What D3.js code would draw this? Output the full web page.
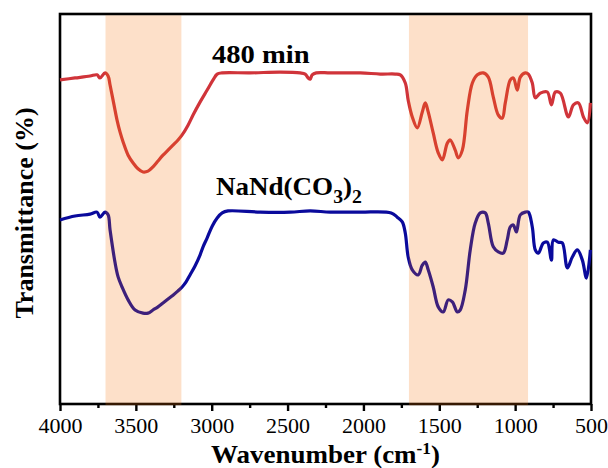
<!DOCTYPE html>
<html>
<head>
<meta charset="utf-8">
<script src="https://cdn.jsdelivr.net/npm/d3@7"></script>
<style>
  html, body { margin: 0; padding: 0; background: #fff; }
  svg { display: block; }
  text { font-family: "Liberation Serif", "Times New Roman", serif; fill: #000; }
</style>
</head>
<body>
<svg id="chart" width="608" height="468"></svg>
<script>
// ---- data (wavenumber in cm^-1, transmittance in arbitrary % units, offset) ----
const wavenumberTicks = [4000, 3500, 3000, 2500, 2000, 1500, 1000, 500];
const minorTicks = [3750, 3250, 2750, 2250, 1750, 1250, 750];
const bands = [[3700, 3200], [1700, 915]];
const seriesNames = ["480 min", "NaNd(CO3)2"];

const wn480 = [4000,3901,3802,3756,3736,3703,3683,3670,3644,3624,3604,3584,3551,3518,3486,3453,3420,3387,3354,3321,3288,3255,3222,3195,3156,3123,3077,3030,2991,2964,2931,2747,2549,2417,2384,2364,2351,2338,2311,2219,2021,1889,1790,1757,1724,1705,1678,1645,1612,1592,1573,1540,1507,1480,1447,1428,1395,1375,1348,1315,1282,1249,1210,1177,1144,1111,1085,1065,1032,1012,986,966,933,913,887,867,834,788,761,735,702,649,616,583,550,524,504];
const t480 = [83.1,83.6,84.1,84.4,83.6,84.9,84.1,81.8,76.7,72.8,69.7,67.2,63.8,61.8,60.3,59.5,59.7,60.8,62.3,63.8,65.1,66.4,67.7,69.0,71.5,74.1,77.4,80.5,83.1,84.6,84.9,84.9,85.1,84.9,84.6,83.6,83.3,84.4,84.9,84.9,84.9,84.6,84.6,84.4,82.3,77.9,73.6,70.8,74.9,77.2,74.9,69.5,64.4,62.6,66.9,67.7,65.1,63.1,65.1,75.4,82.3,84.4,84.9,83.8,78.7,74.1,73.3,77.2,83.1,83.6,80.5,83.8,84.9,84.6,82.3,78.5,79.7,80.0,76.7,80.0,79.7,73.6,76.7,77.2,73.6,72.1,77.2];

const wnNaNd = [4000,3901,3802,3756,3736,3703,3683,3670,3637,3617,3591,3551,3505,3453,3420,3387,3354,3321,3288,3255,3222,3195,3169,3143,3110,3077,3057,3030,2997,2964,2931,2892,2681,2483,2351,2219,2021,1817,1777,1744,1724,1705,1678,1639,1612,1592,1573,1540,1507,1474,1441,1414,1381,1362,1329,1296,1263,1230,1197,1177,1144,1111,1078,1052,1032,1012,992,966,933,913,887,867,847,814,788,761,748,715,689,656,623,590,557,530,504];
const tNaNd = [47.2,48.2,48.7,49.2,47.9,49.2,48.5,44.6,36.2,32.6,30.0,26.7,24.1,23.3,23.3,24.1,24.9,25.9,26.9,27.9,29.0,30.0,31.3,33.1,35.4,38.2,40.3,42.6,45.6,47.7,49.0,49.5,49.2,49.2,49.5,49.2,49.2,49.0,47.9,46.7,43.8,37.7,34.4,33.1,35.6,36.4,34.4,30.0,24.9,23.6,26.7,26.2,23.6,24.1,29.2,39.5,46.4,49.0,49.0,46.4,40.3,39.0,38.7,42.1,45.4,45.9,44.1,48.5,49.2,49.2,45.4,39.5,38.7,41.3,41.5,36.9,42.1,41.5,41.3,34.9,37.7,39.5,36.9,32.3,39.5];

// ---- layout ----
const svg = d3.select("#chart");
const L = 60, R = 591, T = 14, B = 404;
const x = d3.scaleLinear().domain([4000, 500]).range([L, R]);
const y = d3.scaleLinear().domain([0, 100]).range([B, T]);

// frame
svg.append("rect").attr("x", L).attr("y", T).attr("width", R - L).attr("height", B - T)
  .attr("fill", "none").attr("stroke", "#000").attr("stroke-width", 2.6);

// axes ticks
const ax = svg.append("g").attr("transform", `translate(0,${B})`)
  .call(d3.axisBottom(x).tickValues(wavenumberTicks).tickSizeInner(7).tickSizeOuter(0).tickPadding(6).tickFormat(d3.format("d")));
ax.select(".domain").remove();
ax.selectAll(".tick line").attr("stroke", "#000").attr("stroke-width", 2.4);
ax.selectAll(".tick text").style("font-size", "22px").style("font-family", "'Liberation Serif', serif");

const axm = svg.append("g").attr("transform", `translate(0,${B})`)
  .call(d3.axisBottom(x).tickValues(minorTicks).tickSizeInner(4).tickSizeOuter(0).tickFormat(""));
axm.select(".domain").remove();
axm.selectAll(".tick line").attr("stroke", "#000").attr("stroke-width", 2.4);

// lines
const line = d3.line().x(d => x(d[0])).y(d => y(d[1])).curve(d3.curveCatmullRom.alpha(0.5));
const s1 = wn480.map((w, i) => [w, t480[i]]);
const s2 = wnNaNd.map((w, i) => [w, tNaNd[i]]);
svg.append("path").datum(s1).attr("d", line).attr("fill", "none")
  .attr("stroke", "#d0343a").attr("stroke-width", 3.2).attr("stroke-linejoin", "round");
svg.append("path").datum(s2).attr("d", line).attr("fill", "none")
  .attr("stroke", "#0a0a9c").attr("stroke-width", 3.2).attr("stroke-linejoin", "round");

// shaded bands drawn on top (semi-transparent)
svg.selectAll("rect.band").data(bands).enter().append("rect").attr("class", "band")
  .attr("x", d => x(d[0])).attr("width", d => x(d[1]) - x(d[0]))
  .attr("y", T + 1.3).attr("height", B - T)
  .attr("fill", "rgb(246,112,10)").attr("fill-opacity", 0.22);

// series labels (slightly widened, as in the reference)
svg.append("text").attr("transform", "translate(212,63) scale(1.1,1)")
  .style("font-size", "26px").style("font-weight", "bold").text(seriesNames[0]);
const t2 = svg.append("text").attr("transform", "translate(216,195) scale(1.04,1)")
  .style("font-size", "26px").style("font-weight", "bold");
t2.append("tspan").text("NaNd(CO");
t2.append("tspan").attr("dy", 8).style("font-size", "19px").text("3");
t2.append("tspan").attr("dy", -8).text(")");
t2.append("tspan").attr("dy", 8).style("font-size", "19px").text("2");

// axis titles
const xt = svg.append("text").attr("transform", `translate(${(L + R) / 2},463) scale(1.08,1)`).attr("text-anchor", "middle")
  .style("font-size", "25px").style("font-weight", "bold");
xt.append("tspan").text("Wavenumber (cm");
xt.append("tspan").attr("dy", -9).style("font-size", "16px").text("-1");
xt.append("tspan").attr("dy", 9).text(")");

svg.append("text").attr("transform", `translate(33,${(T + B) / 2 + 4}) rotate(-90)`)
  .attr("text-anchor", "middle").style("font-size", "26px").style("font-weight", "bold")
  .text("Transmittance (%)");
</script>
</body>
</html>
